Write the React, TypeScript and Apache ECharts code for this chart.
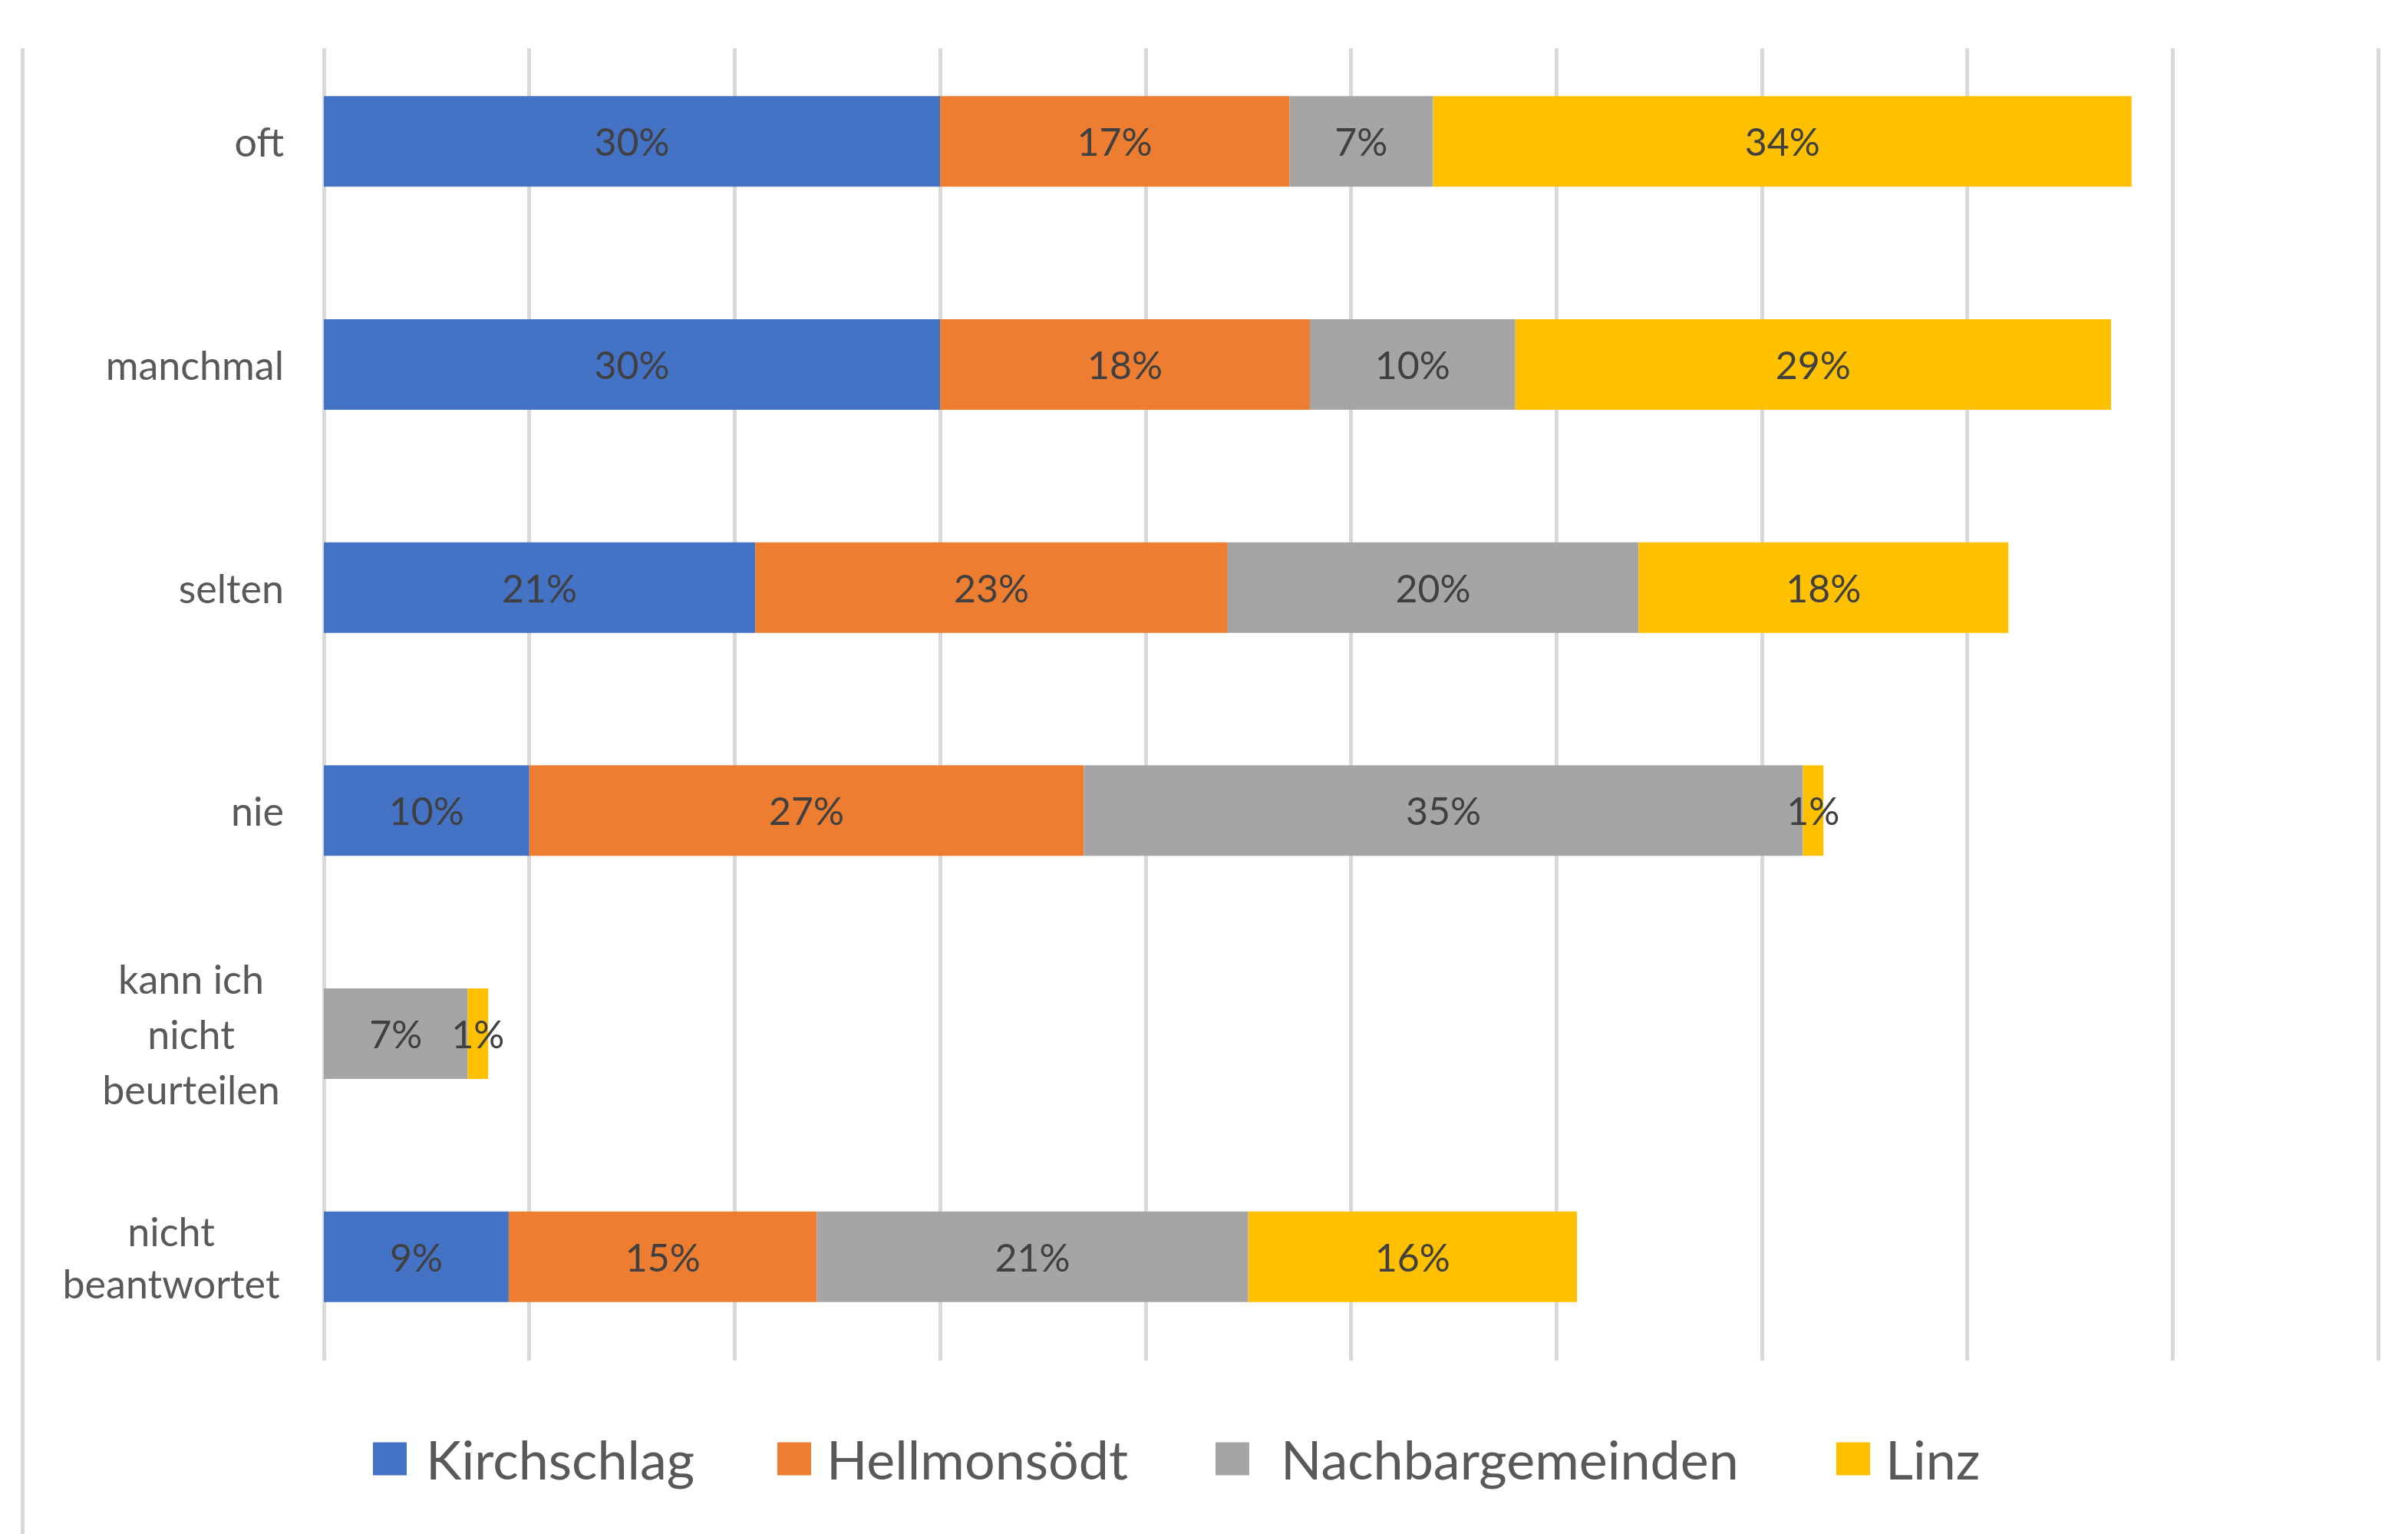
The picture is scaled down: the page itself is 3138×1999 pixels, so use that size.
import React, { useEffect, useRef } from "react";
import * as echarts from "echarts";

const categories = [
  "oft",
  "manchmal",
  "selten",
  "nie",
  "kann ich\nnicht\nbeurteilen",
  "nicht\nbeantwortet",
];
const seriesNames = ["Kirchschlag", "Hellmonsödt", "Nachbargemeinden", "Linz"];
const kirchschlag = [30, 30, 21, 10, 0, 9];
const hellmonsoedt = [17, 18, 23, 27, 0, 15];
const nachbargemeinden = [7, 10, 20, 35, 7, 21];
const linz = [34, 29, 18, 1, 1, 16];
const seriesValues = [kirchschlag, hellmonsoedt, nachbargemeinden, linz];
const colors = ["#4472C4", "#ED7D31", "#A5A5A5", "#FFC000"];
const axisTicks = [0, 10, 20, 30, 40, 50, 60, 70, 80, 90, 100];

const FONT = "Lato";

export default function App() {
  const ref = useRef<HTMLDivElement>(null);
  useEffect(() => {
    if (!ref.current) return;
    const chart = echarts.init(ref.current, null, { renderer: "svg" });
    const legendLeft = [486, 1013, 1584, 2393];
    const legendPad = [20, 15, 36, 15];
    const option: any = {
      animation: false,
      backgroundColor: "#ffffff",
      grid: [
        { left: 422, top: 39, width: 2677, height: 1744, containLabel: false },
        { left: 422, top: 63, width: 2677, height: 1710, containLabel: false },
      ],
      xAxis: [
        {
          type: "value",
          gridIndex: 0,
          min: axisTicks[0],
          max: axisTicks[axisTicks.length - 1],
          interval: 10,
          show: false,
        },
        {
          type: "value",
          gridIndex: 1,
          min: axisTicks[0],
          max: axisTicks[axisTicks.length - 1],
          interval: 10,
          axisLine: { show: false },
          axisTick: { show: false },
          axisLabel: { show: false },
          splitLine: { show: true, lineStyle: { color: "#D9D9D9", width: 5 } },
        },
      ],
      yAxis: [
        {
          type: "category",
          gridIndex: 0,
          data: categories,
          inverse: true,
          axisLine: { show: false },
          axisTick: { show: false },
          splitLine: { show: false },
          axisLabel: {
            margin: 52,
            color: "#595959",
            fontFamily: FONT,
            fontSize: 52,
            align: "right",
            formatter: (v: string) => {
              if (v.indexOf("\n") < 0) return v;
              const lines = v.split("\n");
              const key = lines.length === 3 ? "a" : "b";
              return lines.map((l) => "{" + key + "|" + l + "}").join("\n");
            },
            rich: {
              a: {
                width: 242,
                align: "center",
                lineHeight: 72,
                fontSize: 52,
                fontFamily: FONT,
                color: "#595959",
              },
              b: {
                width: 294,
                align: "center",
                lineHeight: 68,
                fontSize: 52,
                fontFamily: FONT,
                color: "#595959",
              },
            },
          },
        },
        {
          type: "value",
          gridIndex: 1,
          min: 0,
          max: 1,
          show: false,
        },
      ],
      legend: seriesNames.map((name, i) => ({
        show: true,
        data: [name],
        left: legendLeft[i],
        top: 1866,
        orient: "horizontal",
        itemWidth: 44,
        itemHeight: 43,
        icon: "rect",
        selectedMode: false,
        padding: 0,
        textStyle: {
          fontFamily: FONT,
          fontSize: 70,
          color: "#595959",
          padding: [0, 0, 0, legendPad[i]],
        },
      })),
      series: seriesNames.map((name, i) => ({
        name,
        type: "bar",
        stack: "total",
        xAxisIndex: 0,
        yAxisIndex: 0,
        barWidth: 118,
        data: seriesValues[i],
        itemStyle: { color: colors[i] },
        label: {
          show: true,
          position: "inside",
          color: "#404040",
          fontFamily: FONT,
          fontSize: 50,
          formatter: (p: any) => (p.value ? p.value + "%" : ""),
        },
      })),
      graphic: [
        {
          type: "line",
          shape: { x1: 29.5, y1: 63, x2: 29.5, y2: 1999 },
          style: { stroke: "#D9D9D9", lineWidth: 5 },
          silent: true,
        },
      ],
    };
    chart.setOption(option);
    return () => chart.dispose();
  }, []);
  return (
    <div
      ref={ref}
      style={{ position: "fixed", left: 0, top: 0, width: 3138, height: 1999 }}
    />
  );
}
